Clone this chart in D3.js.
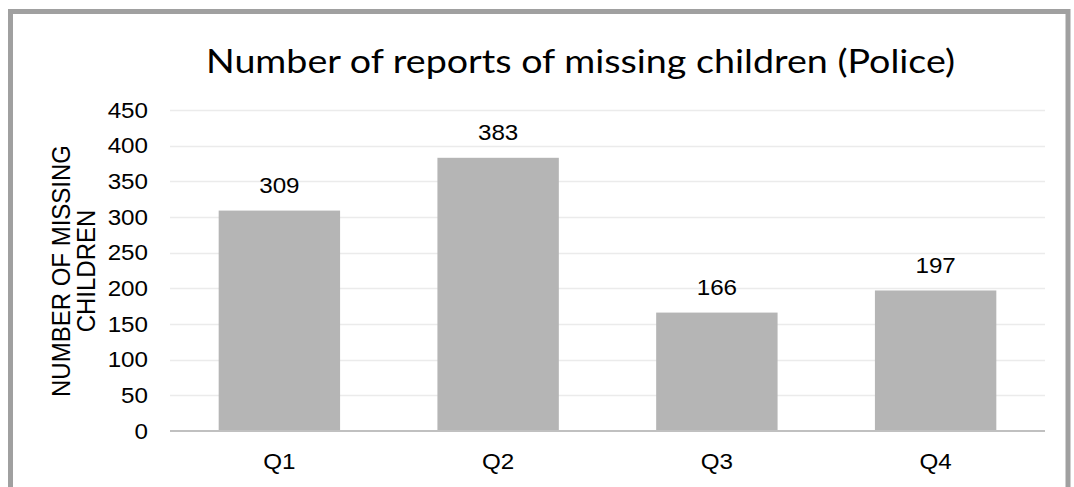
<!DOCTYPE html>
<html>
<head>
<meta charset="utf-8">
<script src="https://cdn.jsdelivr.net/npm/d3@7"></script>
<style>
  html, body { margin: 0; padding: 0; background: #fff; }
  svg { display: block; }
</style>
</head>
<body>
<svg id="chart" width="1074" height="487"></svg>
<script>
const categories = ["Q1", "Q2", "Q3", "Q4"];
const values = [309, 383, 166, 197];
const yTicks = [0, 50, 100, 150, 200, 250, 300, 350, 400, 450];
const titleText = "Number of reports of missing children (Police)";
const yTitleLines = ["NUMBER OF MISSING", "CHILDREN"];

const svg = d3.select("#chart");
const W = 1074, H = 487;
const sx = 1.1; // horizontal stretch of the original rendering
const FONT = "'Liberation Sans', Arial, sans-serif";

svg.append("rect").attr("width", W).attr("height", H).attr("fill", "#fff");

// outer frame
svg.append("rect")
  .attr("x", 10.5).attr("y", 11.5)
  .attr("width", 1057.5).attr("height", 520)
  .attr("fill", "#fff")
  .attr("stroke", "#a0a0a0").attr("stroke-width", 5);

const plotL = 170, plotR = 1045, plotT = 110, plotB = 431;

const x = d3.scaleBand().domain(categories).range([plotL, plotR])
  .paddingInner(0.445).paddingOuter(0.2225);
const y = d3.scaleLinear().domain([0, 450]).range([plotB, plotT]);

// gridlines
svg.append("g").selectAll("line").data(yTicks.filter(d => d > 0)).join("line")
  .attr("x1", plotL).attr("x2", plotR)
  .attr("y1", d => Math.round(y(d)) + 0.5).attr("y2", d => Math.round(y(d)) + 0.5)
  .attr("stroke", "#ebebeb").attr("stroke-width", 1.5);

// bars
svg.append("g").selectAll("rect").data(values).join("rect")
  .attr("x", (d, i) => x(categories[i]))
  .attr("y", d => y(d))
  .attr("width", x.bandwidth())
  .attr("height", d => plotB - y(d))
  .attr("fill", "#b5b5b5");

// baseline axis
svg.append("line")
  .attr("x1", plotL).attr("x2", plotR)
  .attr("y1", plotB).attr("y2", plotB)
  .attr("stroke", "#c0c0c0").attr("stroke-width", 2);

function stretchedText(g, tx, ty, text, anchor, size, extra) {
  return g.append("text")
    .attr("transform", `translate(${tx},${ty}) scale(${sx},1)` + (extra || ""))
    .attr("text-anchor", anchor)
    .attr("font-family", FONT)
    .attr("font-size", size)
    .attr("fill", "#000")
    .text(text);
}

// y tick labels
const gy = svg.append("g");
yTicks.forEach(t => stretchedText(gy, 148, y(t) + 7.5, String(t), "end", 22));

// x labels
const gx = svg.append("g");
categories.forEach(c => stretchedText(gx, x(c) + x.bandwidth() / 2, 469, c, "middle", 22));

// data labels
const gl = svg.append("g");
values.forEach((v, i) => stretchedText(gl, x(categories[i]) + x.bandwidth() / 2, y(v) - 17.5, String(v), "middle", 22));

// y axis title
const gt = svg.append("g");
stretchedText(gt, 70, 271, yTitleLines[0], "middle", 24, " rotate(-90)");
stretchedText(gt, 95, 271, yTitleLines[1], "middle", 24, " rotate(-90)");

// chart title
svg.append("text")
  .attr("x", 206).attr("y", 72.5)
  .attr("font-family", "Lato, 'Open Sans', sans-serif")
  .attr("font-size", 32)
  .attr("fill", "#000")
  .attr("textLength", 749)
  .attr("lengthAdjust", "spacingAndGlyphs")
  .text(titleText);
</script>
</body>
</html>
